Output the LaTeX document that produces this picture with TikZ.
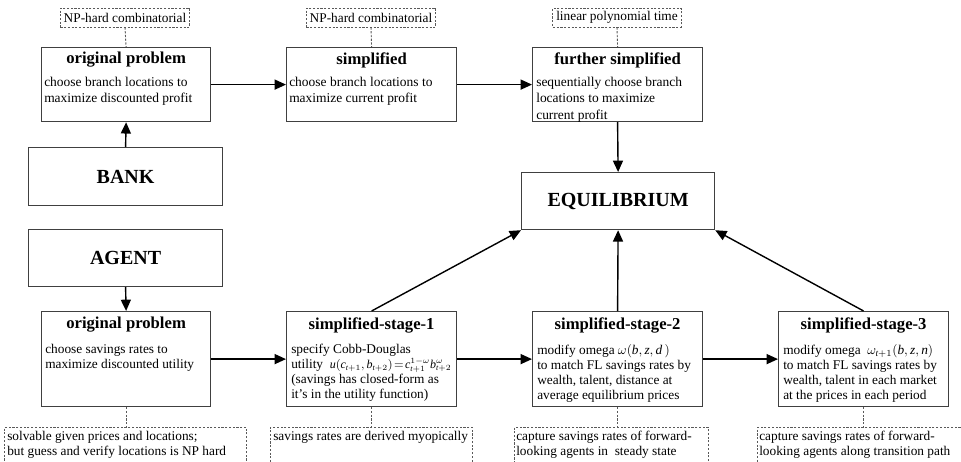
\documentclass[tikz,border=0pt]{standalone}
\usepackage{fontspec}
\setmainfont{Liberation Serif}
\usetikzlibrary{arrows.meta,calc}
\tikzset{
  box/.style={draw=black!75, line width=0.9pt, inner sep=0pt, anchor=north west},
  lblbox/.style={draw=black!65, dash pattern=on 1.6pt off 1.2pt, line width=0.7pt, inner sep=0pt, anchor=north west},
  toplbl/.style={draw=black!65, dash pattern=on 1.6pt off 1.2pt, line width=0.7pt, inner xsep=2.5pt, inner ysep=0pt, minimum height=14.25pt, font=\fontsize{10}{12}\selectfont},
  dashcon/.style={draw=black!65, dash pattern=on 1.6pt off 1.2pt, line width=0.7pt},
  arr/.style={line width=1.05pt, -{Triangle[length=8.5pt,width=7.5pt]}},
  ttl/.style={font=\fontsize{12.5}{14}\selectfont\bfseries, inner sep=0pt, anchor=north},
  bigttl/.style={font=\fontsize{15}{17}\selectfont\bfseries},
  bodytop/.style={font=\fontsize{10.1}{12.2}\selectfont, align=left, inner sep=0pt, anchor=north west},
  bodybot/.style={font=\fontsize{10}{11.3}\selectfont, align=left, inner sep=0pt, anchor=north west},
  lbltxt/.style={font=\fontsize{10}{11.3}\selectfont, align=left, inner sep=0pt, anchor=north west},
}
\newcommand{\bxn}[6][box]{\node[#1, minimum width={#5*0.75pt}, minimum height={#6*0.75pt}] (#2) at (#3,#4) {};}
\begin{document}
\begin{tikzpicture}[x=0.75pt,y=-0.75pt]
\useasboundingbox (0,0) rectangle (961,461);
% ---------- boxes ----------
\bxn{bo}{41}{47}{169}{74}
\bxn{si}{286}{47}{170}{74}
\bxn{fs}{532}{47}{170}{74}
\bxn{ao}{41}{311}{169}{95}
\bxn{sa}{286}{311}{170}{95}
\bxn{sb}{532}{311}{170}{95}
\bxn{sc}{778}{311}{170}{95}
\node[box, bigttl, minimum width={194*0.75pt}, minimum height={58*0.75pt}] (bank) at (28,147) {BANK};
\node[box, bigttl, minimum width={194*0.75pt}, minimum height={57*0.75pt}] (agent) at (28,229) {AGENT};
\node[box, bigttl, minimum width={193*0.75pt}, minimum height={57*0.75pt}] (eq) at (521,172) {EQUILIBRIUM};
% ---------- titles ----------
\node[ttl] (bot) at ([yshift=-3.75pt]bo.north) {original problem};
\node[ttl] (sit) at ([yshift=-3.75pt]si.north) {simplified};
\node[ttl] (fst) at ([yshift=-3.75pt]fs.north) {further simplified};
\node[ttl] (aot) at ([yshift=-4.5pt]ao.north) {original problem};
\node[ttl] (sat) at ([yshift=-4.5pt]sa.north) {simplified-stage-1};
\node[ttl] (sbt) at ([yshift=-4.5pt]sb.north) {simplified-stage-2};
\node[ttl] (sct) at ([yshift=-4.5pt]sc.north) {simplified-stage-3};
% ---------- body text ----------
\node[bodytop] (bob) at ([shift={(3,30)}]bo.north west) {choose branch locations to\\maximize discounted profit};
\node[bodytop] (sib) at ([shift={(3,30)}]si.north west) {choose branch locations to\\maximize current profit};
\node[bodytop] (fsb) at ([shift={(4,30)}]fs.north west) {sequentially choose branch\\locations to maximize\\current profit};
\node[bodybot] (aob) at ([shift={(4,33)}]ao.north west) {choose savings rates to\\maximize discounted utility};
\node[bodybot] (sab) at ([shift={(5,33)}]sa.north west) {specify Cobb-Douglas\\utility\ \ {\fontsize{9}{11.3}\selectfont$\mathit{u}(\mathit{c}_{\mathit{t}+1},\mathit{b}_{\mathit{t}+2})\!=\!\mathit{c}_{\mathit{t}+1}^{1-\omega}\mathit{b}_{\mathit{t}+2}^{\omega}$}\\(savings has closed-form as\\it’s in the utility function)};
\node[bodybot] (sbb) at ([shift={(5,33)}]sb.north west) {modify omega $\omega(\mathit{b},\mathit{z},\mathit{d}\,)$\\to match FL savings rates by\\wealth, talent, distance at\\average equilibrium prices};
\node[bodybot] (scb) at ([shift={(5,33)}]sc.north west) {modify omega\ \ $\omega_{\mathit{t}+1}(\mathit{b},\mathit{z},\mathit{n})$\\to match FL savings rates by\\wealth, talent in each market\\at the prices in each period};
% ---------- top labels ----------
\node[toplbl] (la) at (125,17.5) {NP-hard combinatorial};
\node[toplbl] (lb) at (371,17.5) {NP-hard combinatorial};
\node[toplbl] (lc) at (617,17.5) {linear polynomial time};
\draw[dashcon] (la.south) -- (bo.north);
\draw[dashcon] (lb.south) -- (si.north);
\draw[dashcon] (lc.south) -- (fs.north);
% ---------- bottom labels ----------
\bxn[lblbox]{ba}{4}{427}{242}{45}
\bxn[lblbox]{bb}{270}{427}{202}{45}
\bxn[lblbox]{bc}{514}{427}{194}{45}
\bxn[lblbox]{bd}{757}{427}{206}{45}
\node[lbltxt] (bat) at ([shift={(3,4)}]ba.north west) {solvable given prices and locations;\\but guess and verify locations is NP hard};
\node[lbltxt] (bbt) at ([shift={(3,4)}]bb.north west) {savings rates are derived myopically};
\node[lbltxt] (bct) at ([shift={(2,4)}]bc.north west) {capture savings rates of forward-\\looking agents in\ \ steady state};
\node[lbltxt] (bdt) at ([shift={(2,4)}]bd.north west) {capture savings rates of forward-\\looking agents along transition path};
\draw[dashcon] (ao.south) -- (ao.south |- ba.north);
\draw[dashcon] (sa.south) -- (sa.south |- bb.north);
\draw[dashcon] (sb.south) -- (sb.south |- bc.north);
\draw[dashcon] (sc.south) -- (sc.south |- bd.north);
% ---------- arrows ----------
\draw[arr] (bo.east) -- (si.west);
\draw[arr] (si.east) -- (fs.west);
\draw[arr] (bank.north) -- (bo.south);
\draw[arr] (fs.south) -- (eq.north);
\draw[arr] (agent.south) -- (ao.north);
\draw[arr] (ao.east) -- (sa.west);
\draw[arr] (sa.east) -- (sb.west);
\draw[arr] (sb.east) -- (sc.west);
\draw[arr] (sa.north) -- (eq.south west);
\draw[arr] (sb.north) -- (eq.south);
\draw[arr] (sc.north) -- (eq.south east);
\end{tikzpicture}
\end{document}
